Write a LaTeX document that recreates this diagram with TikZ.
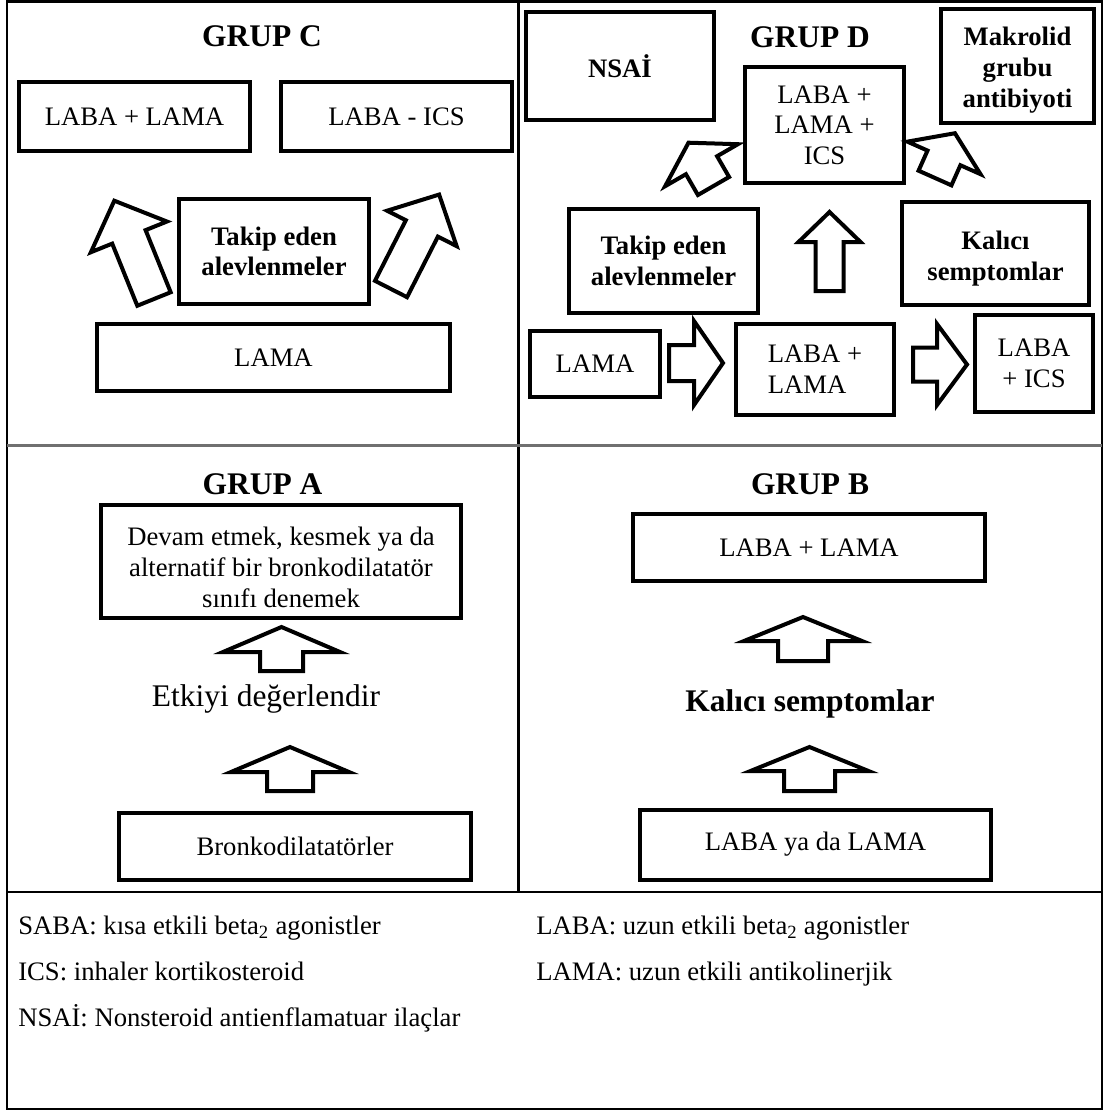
\documentclass[tikz,border=0pt]{standalone}
\usepackage{fontspec}
\setmainfont{Liberation Serif}
\usepackage{tikz}
\definecolor{rulegray}{HTML}{707070}
\newcommand{\boxfont}{\fontsize{20}{23}\selectfont}
\newcommand{\bigfont}{\fontsize{23.6}{27}\selectfont}
\tikzset{
    tbox/.style={draw,line width=3pt,align=center,inner sep=2pt,font=\boxfont},
    boldbox/.style={tbox,font=\boxfont\bfseries},
    boxtext/.style={align=center,inner sep=0pt,font=\boxfont},
    boldtext/.style={boxtext,font=\boxfont\bfseries},
    bw/.style={minimum width=#1*0.75pt},
    bh/.style={minimum height=#1*0.75pt},
    grouptitle/.style={font=\bigfont\bfseries,inner sep=0pt},
    blockarrow/.style={draw,line width=3pt,line join=miter,miter limit=20},
    legend/.style={font=\boxfont,anchor=base west,inner sep=0pt},
    frameline/.style={line width=1.5pt}
}
% tail x, tail y, angle, shaft length, head length, shaft half width, head half width
\newcommand{\blockarr}[7]{%
  \draw[blockarrow,shift={(#1,#2)},rotate=#3]
    (0,-#6) -- (#4,-#6) -- (#4,-#7) -- (#4+#5,0) -- (#4,#7) -- (#4,#6) -- (0,#6) -- cycle;}

\begin{document}
\begin{tikzpicture}[x=0.75pt,y=-0.75pt]
  \useasboundingbox (0,0) rectangle (1103,1110);
  % frame
  \draw[frameline] (7,1.5) rectangle (1101.5,1108.5);
  \draw[line width=2pt] (518.5,1.5) -- (518.5,892);
  \draw[rulegray,line width=2.5pt] (7,445.7) -- (1101.5,445.7);
  \draw[line width=1.8pt] (7,892) -- (1101.5,892);

  % grup C
  \node[grouptitle] (titleC) at (262,36) {GRUP C};
  \node[tbox,bw=231,bh=69] (cLabaLama) at (134.5,116.5) {LABA + LAMA};
  \node[tbox,bw=231,bh=69] (cLabaIcs) at (396.5,116.5) {LABA - ICS};
  \node[boldbox,bw=190,bh=105] (cTakip) at (274,251.5) {Takip eden\\alevlenmeler};
  \node[tbox,bw=353,bh=67] (cLama) at (273.5,357.5) {LAMA};
  \blockarr{154}{299}{112}{67}{39}{18}{41}
  \blockarr{391}{289}{63}{68}{38}{18}{39}

  % grup D
  \node[grouptitle] (titleD) at (810,37) {GRUP D};
  \node[boldbox,bw=188,bh=108] (dNsai) at (620,66) {NSAİ};
  \node[tbox,bw=153,bh=114] (dMakrolid) at (1017.5,66) {};
  \node[boldtext] (dMakrolidText) at (1017.5,70) {Makrolid\\grubu\\antibiyoti};
  \node[tbox,bw=159,bh=116] (dTriple) at (824.5,125) {LABA +\\LAMA +\\ICS};
  \node[boldbox,bw=189,bh=104] (dTakip) at (663.5,261) {Takip eden\\alevlenmeler};
  \node[tbox,bw=187,bh=103] (dKalici) at (995.5,253.5) {};
  \node[boldtext] (dKaliciText) at (995.5,258.5) {Kalıcı\\semptomlar};
  \node[tbox,bw=130,bh=66] (dLama) at (595,364) {LAMA};
  \node[tbox,align=left,bw=158,bh=91] (dLabaLama) at (815,369.5) {LABA +\\LAMA};
  \node[tbox,bw=118,bh=97] (dLabaIcs) at (1034,363.5) {LABA\\+ ICS};
  \blockarr{669}{363}{0}{25}{29}{18}{42}
  \blockarr{913}{364.5}{0}{24}{30}{17}{40.5}
  \blockarr{829.5}{291}{90}{49}{30}{14}{31}
  \blockarr{713.5}{186}{120}{24}{26}{18}{42}
  \blockarr{935}{178}{66}{22}{27}{18}{40}

  % grup A
  \node[grouptitle] (titleA) at (262.5,484) {GRUP A};
  \node[tbox,bw=360,bh=113] (aDevam) at (281,561.5) {};
  \node[boxtext] (aDevamText) at (281,567.5)
    {Devam etmek, kesmek ya da\\alternatif bir bronkodilatatör\\sınıfı denemek};
  \node[font=\bigfont] (aEtkiyi) at (266,699) {Etkiyi değerlendir};
  \node[tbox,bw=352,bh=67] (aBronko) at (295,846.5) {Bronkodilatatörler};
  \blockarr{281.5}{671}{90}{19}{25}{21.5}{58.5}
  \blockarr{290}{791}{90}{19}{25}{23}{59}

  % grup B
  \node[grouptitle] (titleB) at (810,484) {GRUP B};
  \node[tbox,bw=352,bh=67] (bLabaLama) at (809,547.5) {LABA + LAMA};
  \node[font=\bigfont\bfseries] (bKalici) at (810,704) {Kalıcı semptomlar};
  \node[tbox,bw=351,bh=70] (bLabaOr) at (815.5,844.5) {LABA ya da LAMA};
  \blockarr{803}{661}{90}{20}{24}{25}{59}
  \blockarr{809.5}{791}{90}{20}{24}{25.5}{59}

  % kisaltmalar
  \node[legend] (gSaba) at (18,934) {SABA: kısa etkili beta\textsubscript{2} agonistler};
  \node[legend] (gLaba) at (536,934) {LABA: uzun etkili beta\textsubscript{2} agonistler};
  \node[legend] (gIcs) at (18,980) {ICS: inhaler kortikosteroid};
  \node[legend] (gLama) at (536,980) {LAMA: uzun etkili antikolinerjik};
  \node[legend] (gNsai) at (18,1026) {NSAİ: Nonsteroid antienflamatuar ilaçlar};
\end{tikzpicture}
\end{document}
